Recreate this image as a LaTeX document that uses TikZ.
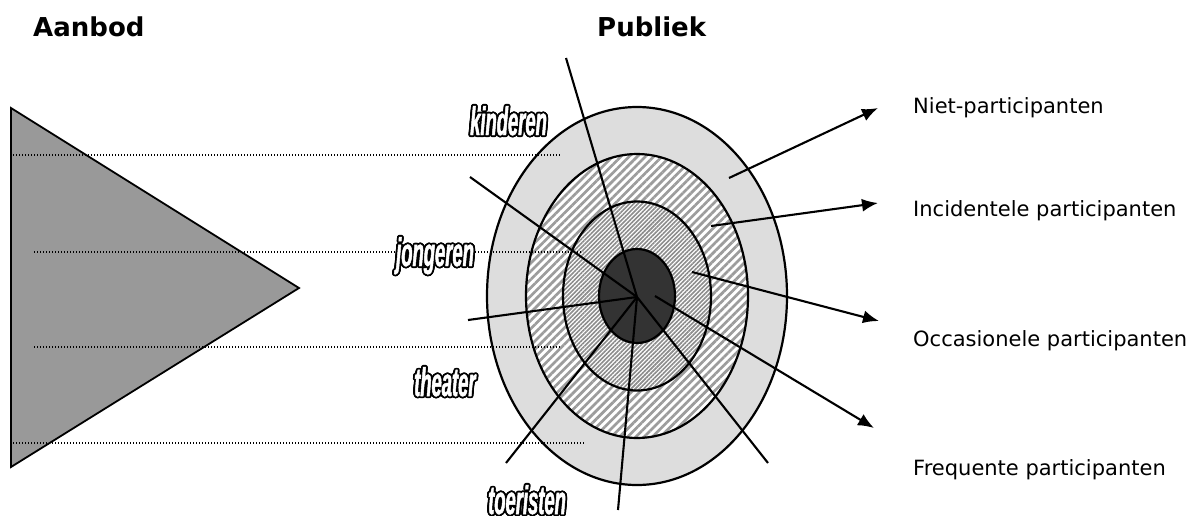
\documentclass[tikz,border=0pt]{standalone}
\usepackage{fontspec}
\setmainfont{DejaVu Sans}
\newfontfamily\wafont[FakeStretch=0.46,FakeBold=1.2]{Liberation Sans Bold Italic}
\usetikzlibrary{shapes.geometric,patterns.meta,arrows.meta,calc}
\tikzset{
  ring/.style={ellipse, draw=black, line width=2.2pt, inner sep=0pt},
  dotline/.style={line width=1.4pt, dash pattern=on 1.4pt off 1.6pt},
  spoke/.style={line width=2.1pt},
  arr/.style={line width=2.1pt, -{Latex[length=16pt,width=13pt]}},
  lbl/.style={anchor=base west, inner sep=0pt, font=\fontsize{21}{25}\selectfont},
  head/.style={anchor=base west, inner sep=0pt, font=\bfseries\fontsize{26}{30}\selectfont},
  walabel/.style={anchor=base west, inner sep=0pt, font=\wafont\fontsize{40}{44}\selectfont},
}
\newcommand\outlinedlabel[3]{%
  \foreach \ang in {0,22.5,...,337.5}{\node[walabel,text=black] at ($#2+(\ang:1.8)$) {#3};}
  \node[walabel,text=white] (#1) at #2 {#3};}
\begin{document}
\begin{tikzpicture}[x=1pt,y=-1pt]
\useasboundingbox (0,0) rectangle (1199,515);
% headings
\node[head] (aanbod) at (33,36) {Aanbod};
\node[head] (publiek) at (597,36) {Publiek};
% triangle
\coordinate (t1) at (11,108);
\coordinate (t2) at (11,467);
\coordinate (t3) at (299,288);
\draw[fill=black!40, line width=1.8pt, line join=miter] (t1) -- (t3) -- (t2) -- cycle;
% rings
\node[ring, minimum width=300pt, minimum height=378pt, fill=gray!27] (e1) at (637,296) {};
\node[ring, minimum width=222pt, minimum height=284pt, preaction={fill=white},
      pattern={Lines[angle=45,distance=5.8pt,line width=2.7pt]}, pattern color=gray!78] (e2) at (637,296) {};
\node[ring, minimum width=148pt, minimum height=189pt, preaction={fill=white},
      pattern={Lines[angle=45,distance=3pt,line width=1.6pt]}, pattern color=gray!90] (e3) at (637,296) {};
\node[ring, minimum width=76pt, minimum height=94pt, fill=black!80] (e4) at (637,296) {};
% dotted lines
\coordinate (d1a) at (13,155);  \coordinate (d1b) at (560,155);
\coordinate (d2a) at (34,252);  \coordinate (d2b) at (583,252);
\coordinate (d3a) at (34,347);  \coordinate (d3b) at (560,347);
\coordinate (d4a) at (13,443);  \coordinate (d4b) at (584,443);
\draw[dotline] (d1a) -- (d1b);
\draw[dotline] (d2a) -- (d2b);
\draw[dotline] (d3a) -- (d3b);
\draw[dotline] (d4a) -- (d4b);
% spokes
\coordinate (hub) at (637,297);
\coordinate (s1) at (566,58);
\coordinate (s2) at (470,177);
\coordinate (s3) at (468,320);
\coordinate (s4) at (506,463);
\coordinate (s5) at (618,510);
\coordinate (s6) at (768,463);
\foreach \s in {s1,s2,s3,s4,s5,s6} \draw[spoke] (\s) -- (hub);
% arrows
\coordinate (a1) at (729,178); \coordinate (b1) at (878,108);
\coordinate (a2) at (711,226); \coordinate (b2) at (878,203);
\coordinate (a3) at (692,272); \coordinate (b3) at (879,321);
\coordinate (a4) at (655,296); \coordinate (b4) at (874,428);
\draw[arr] (a1) -- (b1);
\draw[arr] (a2) -- (b2);
\draw[arr] (a3) -- (b3);
\draw[arr] (a4) -- (b4);
% right labels
\node[lbl] (niet) at (913,113) {Niet-participanten};
\node[lbl] (inc) at (913,216) {Incidentele participanten};
\node[lbl] (occ) at (913,346) {Occasionele participanten};
\node[lbl] (freq) at (913,475) {Frequente participanten};
% outlined labels
\outlinedlabel{kind}{(470,135)}{kinderen}
\outlinedlabel{jong}{(396,266)}{jongeren}
\outlinedlabel{thea}{(414,396)}{theater}
\outlinedlabel{toer}{(488,514)}{toeristen}
\end{tikzpicture}
\end{document}
